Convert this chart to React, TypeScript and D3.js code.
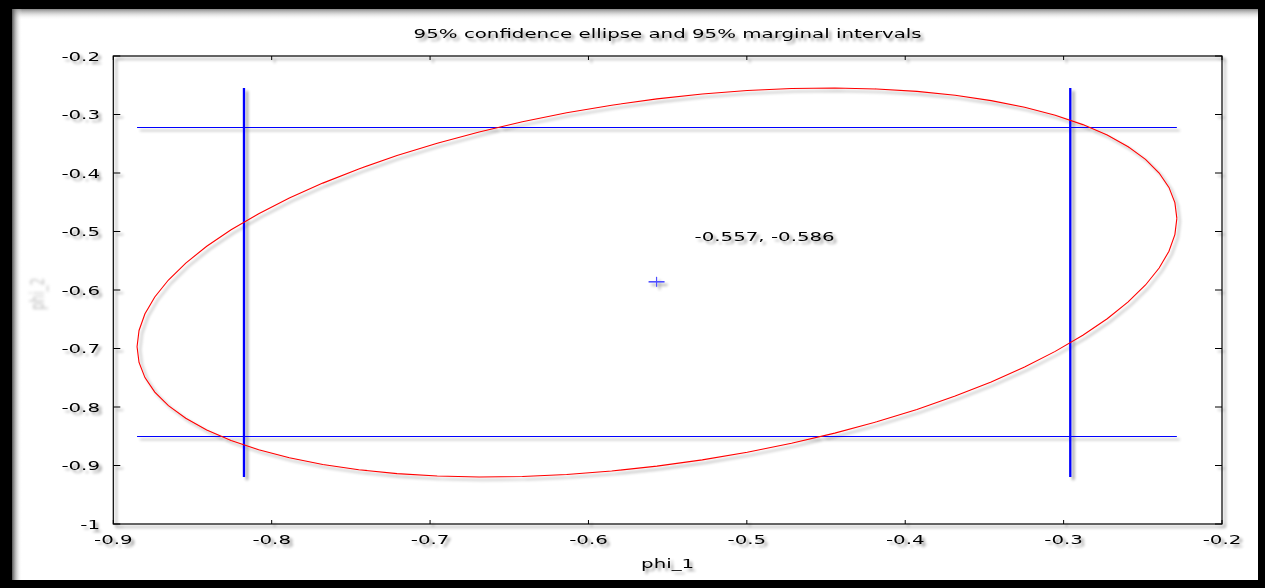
import * as d3 from 'd3';
import { useEffect, useRef } from 'react';

// values
const phi1TickLabels = ['-0.9', '-0.8', '-0.7', '-0.6', '-0.5', '-0.4', '-0.3', '-0.2'];
const phi2TickLabels = ['-0.2', '-0.3', '-0.4', '-0.5', '-0.6', '-0.7', '-0.8', '-0.9', '-1'];
const estimate = [-0.557, -0.586];
const estimateLabel = '-0.557, -0.586';
const phi1Interval = [-0.8175, -0.2958]; // 95% marginal, phi_1
const phi2Interval = [-0.8496, -0.3214]; // 95% marginal, phi_2
const ellipseXRange = [-0.885, -0.2285];
const ellipseYRange = [-0.9197, -0.2547];
const ellipseCorr = 0.33;
const ellipseSteps = 72;

const W = 1265;
const H = 588;
const FONT = '"DejaVu Sans", Verdana, sans-serif';
const SX = 1.65; // picture is stretched sideways

function App() {
    const elementRef = useRef<SVGSVGElement | null>(null);

    useEffect(() => {
        const svg = d3.select(elementRef.current);
        svg.selectAll('*').remove();

        const defs = svg.append('defs');
        const f = defs.append('filter').attr('id', 'shadow')
            .attr('filterUnits', 'userSpaceOnUse')
            .attr('x', 0).attr('y', 0).attr('width', W).attr('height', H);
        f.append('feGaussianBlur').attr('in', 'SourceAlpha').attr('stdDeviation', 1.8).attr('result', 'b');
        f.append('feOffset').attr('in', 'b').attr('dx', 3).attr('dy', 3).attr('result', 'o');
        f.append('feComponentTransfer').attr('in', 'o').attr('result', 's')
            .append('feFuncA').attr('type', 'linear').attr('slope', 0.4);
        const m = f.append('feMerge');
        m.append('feMergeNode').attr('in', 's');
        m.append('feMergeNode').attr('in', 'SourceGraphic');

        // y label is only a smudge in the picture
        defs.append('filter').attr('id', 'smudge')
            .attr('filterUnits', 'userSpaceOnUse')
            .attr('x', 0).attr('y', 0).attr('width', W).attr('height', H)
            .append('feGaussianBlur').attr('stdDeviation', 1.6);

        const gTop = defs.append('linearGradient').attr('id', 'gTop').attr('x1', 0).attr('y1', 0).attr('x2', 0).attr('y2', 1);
        gTop.append('stop').attr('offset', '0%').attr('stop-color', '#888');
        gTop.append('stop').attr('offset', '100%').attr('stop-color', '#fff').attr('stop-opacity', 0);
        const gLeft = defs.append('linearGradient').attr('id', 'gLeft').attr('x1', 0).attr('y1', 0).attr('x2', 1).attr('y2', 0);
        gLeft.append('stop').attr('offset', '0%').attr('stop-color', '#555');
        gLeft.append('stop').attr('offset', '100%').attr('stop-color', '#fff').attr('stop-opacity', 0);

        // frame
        svg.append('rect').attr('width', W).attr('height', H).attr('fill', '#000');
        svg.append('rect').attr('x', 12).attr('y', 9).attr('width', 1246).attr('height', 571).attr('fill', '#fff');
        svg.append('rect').attr('x', 12).attr('y', 9).attr('width', 1246).attr('height', 11).attr('fill', 'url(#gTop)');
        svg.append('rect').attr('x', 12).attr('y', 9).attr('width', 10).attr('height', 571).attr('fill', 'url(#gLeft)');

        const x = d3.scaleLinear().domain([-0.9, -0.2]).range([113.3, 1222]);
        const y = d3.scaleLinear().domain([-1, -0.2]).range([524, 56]);

        svg.append('g').attr('filter', 'url(#smudge)')
            .append('text')
            .attr('transform', `translate(44,294) rotate(-90) scale(1,${SX})`)
            .attr('text-anchor', 'middle')
            .attr('font-family', FONT)
            .attr('font-size', 12)
            .attr('fill', '#c4c4c4')
            .text('phi_2');

        const g = svg.append('g').attr('filter', 'url(#shadow)');

        const text = (tx: number, ty: number, s: string, anchor: string) =>
            g.append('text')
                .attr('transform', `translate(${tx},${ty}) scale(${SX},1)`)
                .attr('text-anchor', anchor)
                .attr('font-family', FONT)
                .attr('font-size', 12)
                .attr('fill', '#000')
                .text(s);

        // ticks
        phi1TickLabels.forEach(l => {
            const px = x(+l);
            g.append('line').attr('x1', px).attr('x2', px).attr('y1', y(-1)).attr('y2', y(-1) - 4).attr('stroke', '#000');
            g.append('line').attr('x1', px).attr('x2', px).attr('y1', y(-0.2)).attr('y2', y(-0.2) + 4).attr('stroke', '#000');
            text(px, 544, l, 'middle');
        });
        phi2TickLabels.forEach(l => {
            const py = y(+l);
            g.append('line').attr('x1', x(-0.9)).attr('x2', x(-0.9) + 7).attr('y1', py).attr('y2', py).attr('stroke', '#000');
            g.append('line').attr('x1', x(-0.2)).attr('x2', x(-0.2) - 7).attr('y1', py).attr('y2', py).attr('stroke', '#000');
            text(100, py + 4.5, l, 'end');
        });

        // border
        g.append('rect')
            .attr('x', x(-0.9)).attr('y', y(-0.2))
            .attr('width', x(-0.2) - x(-0.9)).attr('height', y(-1) - y(-0.2))
            .attr('fill', 'none').attr('stroke', '#000').attr('stroke-width', 1.2);

        // marginal intervals
        phi1Interval.forEach(v => {
            g.append('line').attr('x1', x(v)).attr('x2', x(v))
                .attr('y1', y(ellipseYRange[1])).attr('y2', y(ellipseYRange[0]))
                .attr('stroke', '#0000ff').attr('stroke-width', 2.3);
        });
        phi2Interval.forEach(v => {
            const py = Math.round(y(v)) + 0.5;
            g.append('line').attr('y1', py).attr('y2', py)
                .attr('x1', x(ellipseXRange[0])).attr('x2', x(ellipseXRange[1]))
                .attr('stroke', '#0000ff').attr('stroke-width', 1);
        });

        // confidence ellipse
        const cx = (ellipseXRange[0] + ellipseXRange[1]) / 2;
        const cy = (ellipseYRange[0] + ellipseYRange[1]) / 2;
        const rx = (ellipseXRange[1] - ellipseXRange[0]) / 2;
        const ry = (ellipseYRange[1] - ellipseYRange[0]) / 2;
        const pts = d3.range(ellipseSteps + 1).map(i => {
            const t = (i / ellipseSteps) * 2 * Math.PI;
            return [cx + rx * Math.cos(t),
                cy + ry * (ellipseCorr * Math.cos(t) + Math.sqrt(1 - ellipseCorr * ellipseCorr) * Math.sin(t))];
        });
        const line = d3.line<number[]>().x(d => x(d[0])).y(d => y(d[1]));
        g.append('path').datum(pts).attr('d', line)
            .attr('fill', 'none').attr('stroke', '#ff0000').attr('stroke-width', 1.1);

        // estimate
        const ex = x(estimate[0]);
        const ey = y(estimate[1]);
        g.append('line').attr('x1', ex - 8).attr('x2', ex + 8).attr('y1', ey).attr('y2', ey)
            .attr('stroke', '#5050ff').attr('stroke-width', 1.6);
        g.append('line').attr('x1', ex).attr('x2', ex).attr('y1', ey - 5).attr('y2', ey + 5)
            .attr('stroke', '#5050ff').attr('stroke-width', 1.2);
        text(ex + 38, ey - 41, estimateLabel, 'start');

        // titles
        text((x(-0.9) + x(-0.2)) / 2, 38, '95% confidence ellipse and 95% marginal intervals', 'middle');
        text((x(-0.9) + x(-0.2)) / 2, 568, 'phi_1', 'middle');
    });

    return (
        <svg ref={elementRef} width={W} height={H}
            style={{ position: 'absolute', left: 0, top: 0, display: 'block' }} />
    );
}

export default App;
